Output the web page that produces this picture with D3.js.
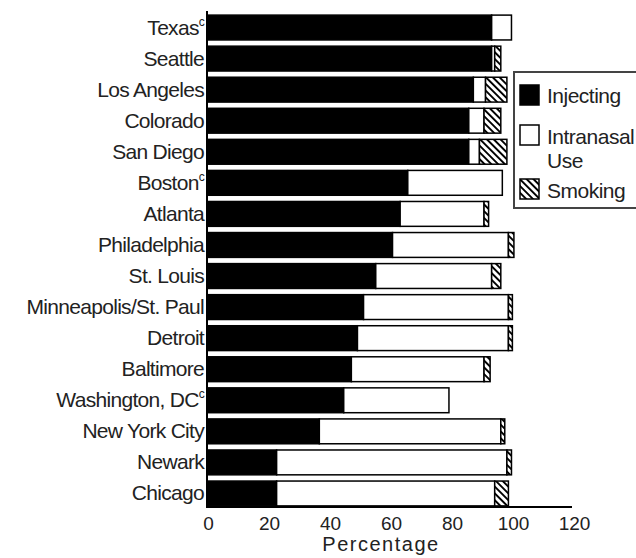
<!DOCTYPE html>
<html>
<head>
<meta charset="utf-8">
<script src="https://cdn.jsdelivr.net/npm/d3@7"></script>
<style>
  html, body { margin: 0; padding: 0; background: #fff; }
  svg { display: block; font-family: "Liberation Sans", Arial, sans-serif; }
</style>
</head>
<body>
<svg id="chart" width="636" height="558"></svg>
<script>
const categories = ["Texas","Seattle","Los Angeles","Colorado","San Diego","Boston","Atlanta","Philadelphia","St. Louis","Minneapolis/St. Paul","Detroit","Baltimore","Washington, DC","New York City","Newark","Chicago"];
const footnotes  = ["c","","","","","c","","","","","","","c","","",""];
const injecting  = [93, 93, 87, 85.5, 85.5, 65.5, 63, 60.5, 55, 51, 49, 47, 44.5, 36.5, 22.5, 22.5];
const intranasal = [6.5, 1, 4, 5, 3.5, 31, 27.5, 38, 38, 47.5, 49.5, 43.5, 34.5, 59.5, 75.5, 71.5];
const smoking    = [0, 2, 7, 5.5, 9, 0, 1.5, 1.8, 3, 1.3, 1.3, 2, 0, 1.3, 1.5, 4.5];
const seriesNames = ["Injecting", "Intranasal", "Smoking"];
const legendLabels = [["Injecting"], ["Intranasal", "Use"], ["Smoking"]];
const xTicks = [0, 20, 40, 60, 80, 100, 120];
const xTitle = "Percentage";

const svg = d3.select("#chart");

// hatch pattern
const defs = svg.append("defs");
const pat = defs.append("pattern")
  .attr("id", "hatch")
  .attr("patternUnits", "userSpaceOnUse")
  .attr("width", 4.8).attr("height", 10)
  .attr("patternTransform", "rotate(-45)");
pat.append("rect").attr("width", 4.8).attr("height", 10).attr("fill", "#fff");
pat.append("rect").attr("width", 1.9).attr("height", 10).attr("fill", "#000");

const x = d3.scaleLinear().domain([0, 120]).range([208, 574]);
const y = d3.scaleBand().domain(categories).range([12, 509]).paddingInner(0.2).paddingOuter(0.1);

const fills = ["#000", "#fff", "url(#hatch)"];
const rows = categories.map((c, i) => {
  const vals = [injecting[i], intranasal[i], smoking[i]];
  let acc = 0;
  return vals.map((v, k) => { const s = {cat: c, x0: acc, x1: acc + v, k}; acc += v; return s; });
});

const bars = svg.append("g");
rows.forEach(segs => {
  segs.filter(s => s.x1 > s.x0).forEach(s => {
    bars.append("rect")
      .attr("x", x(s.x0))
      .attr("y", y(s.cat))
      .attr("width", x(s.x1) - x(s.x0))
      .attr("height", y.bandwidth())
      .attr("fill", fills[s.k])
      .attr("stroke", "#000")
      .attr("stroke-width", 1.5);
  });
});

// x axis
const xAxis = svg.append("g")
  .attr("transform", "translate(0,507)")
  .call(d3.axisBottom(x).tickValues(xTicks).tickSize(0).tickPadding(6).tickFormat(d3.format("d")));
xAxis.select(".domain").attr("stroke", "#000").attr("stroke-width", 2).attr("d", `M${x(0) - 1},0H${x(120) - 2}`);
xAxis.selectAll("text").attr("font-size", 19).attr("fill", "#222").attr("font-family", "Liberation Sans, Arial, sans-serif").attr("dy", "0.9em");

svg.append("text")
  .attr("x", 381).attr("y", 551)
  .attr("text-anchor", "middle")
  .attr("font-size", 20)
  .attr("letter-spacing", 1.5)
  .attr("fill", "#222")
  .text(xTitle);

// y axis line
svg.append("line")
  .attr("x1", x(0) - 1).attr("x2", x(0) - 1)
  .attr("y1", 11).attr("y2", 508)
  .attr("stroke", "#000").attr("stroke-width", 2);

// category labels
const labels = svg.append("g");
categories.forEach((c, i) => {
  const t = labels.append("text")
    .attr("x", 204)
    .attr("y", y(c) + y.bandwidth() / 2 + 7)
    .attr("text-anchor", "end")
    .attr("font-size", 21)
    .attr("letter-spacing", -0.7)
    .attr("fill", "#222");
  t.append("tspan").text(c);
  if (footnotes[i]) {
    t.append("tspan").attr("font-size", 12).attr("dy", -9).text(footnotes[i]);
  }
});

// legend
const lg = svg.append("g");
lg.append("rect")
  .attr("x", 514).attr("y", 72).attr("width", 140).attr("height", 136)
  .attr("fill", "#fff").attr("stroke", "#444").attr("stroke-width", 2);
const swY = [85, 125, 179];
const txY = [[103], [144, 168], [198]];
seriesNames.forEach((n, k) => {
  lg.append("rect")
    .attr("x", 520).attr("y", swY[k]).attr("width", 19).attr("height", 20)
    .attr("fill", fills[k]).attr("stroke", "#000").attr("stroke-width", 1.5);
  legendLabels[k].forEach((line, j) => {
    lg.append("text")
      .attr("x", 547).attr("y", txY[k][j])
      .attr("font-size", 21)
      .attr("letter-spacing", -0.5)
      .attr("fill", "#222")
      .text(line);
  });
});
</script>
</body>
</html>
